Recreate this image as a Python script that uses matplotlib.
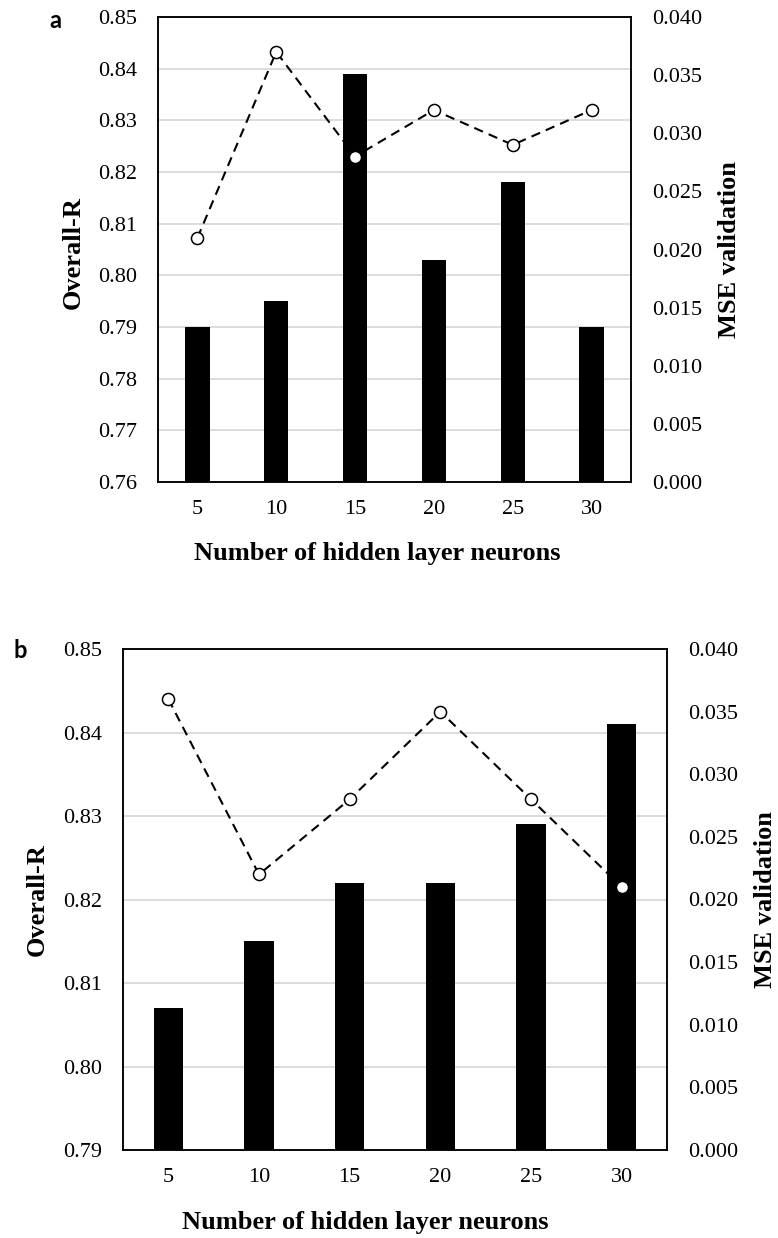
import numpy as np
import matplotlib
matplotlib.use("Agg")
from matplotlib import pyplot as plt

# data
neurons = ["5", "10", "15", "20", "25", "30"]

r_a = [0.790, 0.795, 0.839, 0.803, 0.818, 0.790]
mse_a = [0.021, 0.037, 0.028, 0.032, 0.029, 0.032]

r_b = [0.807, 0.815, 0.822, 0.822, 0.829, 0.841]
mse_b = [0.036, 0.022, 0.028, 0.035, 0.028, 0.021]

r_ticks_a = [0.76, 0.77, 0.78, 0.79, 0.80, 0.81, 0.82, 0.83, 0.84, 0.85]
r_ticks_b = [0.79, 0.80, 0.81, 0.82, 0.83, 0.84, 0.85]
mse_ticks = [0.000, 0.005, 0.010, 0.015, 0.020, 0.025, 0.030, 0.035, 0.040]

plt.rcParams['font.family'] = ['Liberation Serif', 'DejaVu Serif']

fig = plt.figure(figsize=(7.78, 12.38), dpi=100)


def panel(rect, r, mse, r_ticks, bar_w, letter, letter_xy, xlab_xy, ylab_xy, y2lab_xy):
    ax = fig.add_axes(rect)
    ax2 = ax.twinx()
    x = np.arange(len(neurons))

    ax.set_ylim(r_ticks[0], r_ticks[-1])
    ax.set_yticks(r_ticks)
    ax.set_yticklabels(["%.2f" % t for t in r_ticks])
    ax2.set_ylim(mse_ticks[0], mse_ticks[-1])
    ax2.set_yticks(mse_ticks)
    ax2.set_yticklabels(["%.3f" % t for t in mse_ticks])
    ax.set_xlim(-0.5, len(neurons) - 0.5)
    ax.set_xticks(x)
    ax.set_xticklabels(neurons)

    # grid behind everything
    ax.yaxis.grid(True, color='#d9d9d9', linewidth=1.3, zorder=0)
    ax.set_axisbelow(True)

    # dashed line sits behind the bars, markers on top (like the original)
    ax.plot(x, mse, color='black', linestyle=(0, (4.5, 3)), linewidth=1.5,
            transform=ax2.transData, zorder=1.5)
    ax.bar(x, np.array(r) - r_ticks[0], bottom=r_ticks[0], width=bar_w,
           color='black', zorder=2)
    ax.plot(x, mse, linestyle='none', marker='o', markersize=8.7,
            markerfacecolor='white', markeredgecolor='black', markeredgewidth=1.1,
            transform=ax2.transData, zorder=3)
    ax.set_ylim(r_ticks[0], r_ticks[-1])
    ax.set_xlim(-0.5, len(neurons) - 0.5)

    for a in (ax, ax2):
        a.tick_params(length=0, labelsize=16)
        for s in a.spines.values():
            s.set_linewidth(1.1)
            s.set_color('black')
    ax.tick_params(axis='y', pad=15)
    ax.tick_params(axis='x', pad=13)
    ax2.tick_params(axis='y', pad=15)

    ax.set_xlabel("Number of hidden layer neurons", fontsize=19, fontweight='bold')
    ax.xaxis.set_label_coords(*xlab_xy)
    ax.xaxis.label.set_va('center')
    ax.set_ylabel("Overall-R", fontsize=19, fontweight='bold')
    ax.yaxis.set_label_coords(*ylab_xy)
    ax.yaxis.label.set_va('center')
    ax2.set_ylabel("MSE validation", fontsize=19, fontweight='bold')
    ax2.yaxis.set_label_coords(*y2lab_xy)
    ax2.yaxis.label.set_va('center')

    fig.text(letter_xy[0], letter_xy[1], letter, fontsize=17, fontweight='bold',
             family=['Lato', 'DejaVu Sans'], ha='center', va='center')
    return ax


panel([158 / 778, 1 - 482 / 1238, 473 / 778, 465 / 1238], r_a, mse_a, r_ticks_a, 0.31,
      "a", (55 / 778, 1 - 20 / 1238), (0.463, -0.153), (-0.180, 0.493), (1.209, 0.50))

panel([123 / 778, 1 - 1150 / 1238, 544 / 778, 501 / 1238], r_b, mse_b, r_ticks_b, 0.32,
      "b", (20 / 778, 1 - 651 / 1238), (0.445, -0.144), (-0.158, 0.499), (1.181, 0.50))

fig.savefig("out.png", dpi=100)
